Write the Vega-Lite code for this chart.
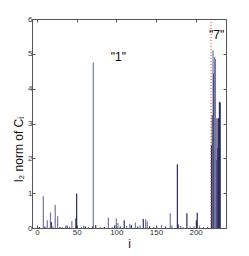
{
  "$schema": "https://vega.github.io/schema/vega-lite/v6.json",
  "autosize": "none",
  "width": 194,
  "height": 209,
  "padding": {"left": 32, "top": 19, "right": 23, "bottom": 28},
  "background": "white",
  "config": {
    "view": {"stroke": "#555555", "strokeWidth": 1},
    "font": "Liberation Sans",
    "axis": {
      "grid": false,
      "domainColor": "#555555",
      "tickColor": "#555555",
      "labelColor": "#333333",
      "labelFontSize": 8,
      "labelOverlap": false,
      "titleColor": "#111111",
      "titleFontWeight": "normal",
      "titleFontSize": 12
    }
  },
  "resolve": {"axis": {"x": "independent", "y": "independent"}},
  "datasets": {
    "bars": [
      {"i": 3, "v": 0.03, "s": "b"},
      {"i": 8, "v": 0.91, "s": "a"},
      {"i": 10, "v": 0.04, "s": "b"},
      {"i": 13, "v": 0.22, "s": "a"},
      {"i": 17, "v": 0.45, "s": "a"},
      {"i": 18, "v": 0.17, "s": "b"},
      {"i": 20, "v": 0.05, "s": "a"},
      {"i": 23, "v": 0.67, "s": "a"},
      {"i": 26, "v": 0.34, "s": "a"},
      {"i": 29, "v": 0.03, "s": "b"},
      {"i": 32, "v": 0.03, "s": "a"},
      {"i": 36, "v": 0.06, "s": "a"},
      {"i": 38, "v": 0.07, "s": "b"},
      {"i": 41, "v": 0.04, "s": "a"},
      {"i": 44, "v": 0.2, "s": "a"},
      {"i": 49, "v": 0.28, "s": "b"},
      {"i": 50, "v": 0.99, "s": "b"},
      {"i": 56, "v": 0.03, "s": "a"},
      {"i": 59, "v": 0.07, "s": "a"},
      {"i": 61, "v": 0.04, "s": "b"},
      {"i": 65, "v": 0.03, "s": "a"},
      {"i": 70, "v": 0.05, "s": "b"},
      {"i": 71, "v": 4.75, "s": "a"},
      {"i": 74, "v": 0.08, "s": "b"},
      {"i": 80, "v": 0.03, "s": "a"},
      {"i": 85, "v": 0.03, "s": "b"},
      {"i": 90, "v": 0.3, "s": "a"},
      {"i": 95, "v": 0.03, "s": "a"},
      {"i": 98, "v": 0.08, "s": "b"},
      {"i": 100, "v": 0.27, "s": "a"},
      {"i": 102, "v": 0.14, "s": "a"},
      {"i": 105, "v": 0.04, "s": "b"},
      {"i": 110, "v": 0.22, "s": "b"},
      {"i": 113, "v": 0.06, "s": "a"},
      {"i": 117, "v": 0.12, "s": "a"},
      {"i": 119, "v": 0.08, "s": "b"},
      {"i": 124, "v": 0.16, "s": "a"},
      {"i": 127, "v": 0.04, "s": "b"},
      {"i": 130, "v": 0.08, "s": "a"},
      {"i": 134, "v": 0.26, "s": "b"},
      {"i": 137, "v": 0.25, "s": "a"},
      {"i": 139, "v": 0.19, "s": "a"},
      {"i": 142, "v": 0.05, "s": "b"},
      {"i": 147, "v": 0.03, "s": "a"},
      {"i": 151, "v": 0.05, "s": "a"},
      {"i": 157, "v": 0.09, "s": "a"},
      {"i": 162, "v": 0.04, "s": "b"},
      {"i": 168, "v": 0.42, "s": "a"},
      {"i": 170, "v": 0.08, "s": "a"},
      {"i": 177, "v": 1.83, "s": "b"},
      {"i": 178, "v": 0.1, "s": "b"},
      {"i": 181, "v": 0.06, "s": "a"},
      {"i": 184, "v": 0.03, "s": "a"},
      {"i": 189, "v": 0.42, "s": "b"},
      {"i": 193, "v": 0.04, "s": "a"},
      {"i": 198, "v": 0.05, "s": "a"},
      {"i": 201, "v": 0.22, "s": "b"},
      {"i": 202, "v": 0.44, "s": "b"},
      {"i": 205, "v": 0.07, "s": "a"},
      {"i": 210, "v": 0.02, "s": "b"},
      {"i": 215, "v": 0.02, "s": "b"},
      {"i": 220, "v": 2.38, "s": "b"},
      {"i": 221, "v": 3.24, "s": "b"},
      {"i": 222, "v": 5.1, "s": "a"},
      {"i": 223, "v": 4.44, "s": "b"},
      {"i": 224, "v": 4.91, "s": "a"},
      {"i": 225, "v": 4.85, "s": "a"},
      {"i": 226, "v": 1.95, "s": "a"},
      {"i": 227, "v": 3.15, "s": "b"},
      {"i": 228, "v": 2.3, "s": "b"},
      {"i": 229, "v": 3.15, "s": "b"},
      {"i": 230, "v": 3.62, "s": "b"},
      {"i": 231, "v": 3.6, "s": "b"}
    ],
    "marks": [{"i": 219.5}],
    "labels": [
      {"i": 102.5, "v": 4.9, "t": "\"1\""},
      {"i": 226.5, "v": 5.55, "t": "\"7\""}
    ]
  },
  "layer": [
    {
      "data": {"name": "bars"},
      "mark": {"type": "bar", "size": 1.2},
      "encoding": {
        "x": {
          "field": "i", "type": "quantitative",
          "scale": {"domain": [0, 232], "nice": false},
          "axis": {"values": [0, 50, 100, 150, 200], "title": "i", "tickSize": -3, "labelPadding": 3, "titlePadding": 2, "labelFlush": false}
        },
        "y": {
          "field": "v", "type": "quantitative",
          "scale": {"domain": [0, 6], "nice": false},
          "axis": {"values": [0, 1, 2, 3, 4, 5, 6], "title": "l₂ norm of Cᵢ", "tickSize": -3, "labelPadding": 3, "titleX": -7, "titleY": 130, "titleAlign": "center", "labelFlush": false}
        },
        "color": {
          "field": "s", "type": "nominal",
          "scale": {"domain": ["a", "b"], "range": ["#7476a6", "#2a2d5c"]},
          "legend": null
        }
      }
    },
    {
      "data": {"name": "marks"},
      "mark": {"type": "rule", "color": "#ff3333", "strokeDash": [1, 2], "strokeWidth": 1},
      "encoding": {"x": {"field": "i", "type": "quantitative", "axis": null}}
    },
    {
      "data": {"name": "labels"},
      "mark": {"type": "text", "fontSize": 12, "fill": "black", "font": "Liberation Sans"},
      "encoding": {
        "x": {
          "field": "i", "type": "quantitative",
          "axis": {"orient": "top", "values": [0, 50, 100, 150, 200], "labels": false, "title": null, "tickSize": -3, "domain": false}
        },
        "y": {
          "field": "v", "type": "quantitative",
          "axis": {"orient": "right", "values": [0, 1, 2, 3, 4, 5, 6], "labels": false, "title": null, "tickSize": -3, "domain": false}
        },
        "text": {"field": "t"}
      }
    }
  ]
}
